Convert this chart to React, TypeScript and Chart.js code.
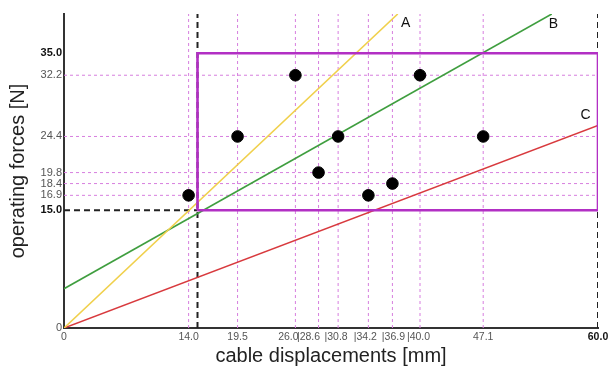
import React, { useEffect, useRef } from "react";
import { Chart, registerables } from "chart.js";

Chart.register(...registerables);

// ---- data ----
const X_MIN = 0;
const X_MAX = 60;
const Y_MIN = 0;
const Y_MAX = 40;

const xTickValues = [0, 14.0, 19.5, 26.0, 28.6, 30.8, 34.2, 36.9, 40.0, 47.1, 60.0];
const xTickLabels = ["0", "14.0", "19.5", "26.0", "|28.6", "|30.8", "|34.2", "|36.9", "|40.0", "47.1", "60.0"];
const xBold = [60.0];

const yTickValues = [0, 15.0, 16.9, 18.4, 19.8, 24.4, 32.2, 35.0];
const yTickLabels = ["0", "15.0", "16.9", "18.4", "19.8", "24.4", "32.2", "35.0"];
const yBold = [15.0, 35.0];

const guideX = [14.0, 19.5, 26.0, 28.6, 30.8, 34.2, 36.9, 40.0, 47.1];
const guideY = [16.9, 18.4, 19.8, 24.4, 32.2];

const pointX = [14.0, 19.5, 26.0, 28.6, 30.8, 34.2, 36.9, 40.0, 47.1];
const pointY = [16.9, 24.4, 32.2, 19.8, 24.4, 16.9, 18.4, 32.2, 24.4];

const lineNames = ["A", "B", "C"];
const lineStartX = [0, 0, 0];
const lineStartY = [0, 5, 0];
const lineEndX = [37.5, 54.8, 60];
const lineEndY = [40, 40, 25.8];
const lineLabelX = [38.4, 55.0, 58.6];
const lineLabelY = [38.8, 38.7, 27.1];

const boxX = [15, 60, 60, 15, 15];
const boxY = [15, 15, 35, 35, 15];

const limitX = [15, 60];
const limitY = [15];

// ---- styles ----
const FONT = "'Liberation Sans', Arial, Helvetica, sans-serif";
const lineColors = ["#f0d04c", "#3f9e3f", "#d83a3e"];
const PINK = "#d77fdf";
const BOX = "#b22fc4";
const xLabelShift = [0, 0, 0, -7, -10, -2, -3, 1, -1.5, 0, 0];

const overlayPlugin = {
  id: "overlay",
  afterDraw(chart: any) {
    const { ctx, chartArea } = chart;
    const xs = chart.scales.x;
    const ys = chart.scales.y;
    ctx.save();
    ctx.fillStyle = "#111";
    ctx.textAlign = "center";
    ctx.textBaseline = "middle";
    ctx.font = `14px ${FONT}`;
    lineNames.forEach((n, i) => {
      ctx.fillText(n, xs.getPixelForValue(lineLabelX[i]), ys.getPixelForValue(lineLabelY[i]));
    });
    xTickValues.forEach((v, i) => {
      const bold = xBold.includes(v);
      ctx.font = `${bold ? "bold " : ""}10.5px ${FONT}`;
      ctx.fillStyle = bold ? "#111" : "#555";
      ctx.fillText(xTickLabels[i], xs.getPixelForValue(v) + xLabelShift[i], chartArea.bottom + 9);
    });
    ctx.restore();
  },
};

export default function App() {
  const canvasRef = useRef<HTMLCanvasElement | null>(null);

  useEffect(() => {
    if (!canvasRef.current) return;

    const seg = (x1: number, y1: number, x2: number, y2: number) => [
      { x: x1, y: y1 },
      { x: x2, y: y2 },
    ];

    const datasets: any[] = [];

    datasets.push({
      data: pointX.map((x, i) => ({ x, y: pointY[i] })),
      backgroundColor: "#000",
      borderColor: "#000",
      pointRadius: 5.8,
      showLine: false,
      order: 0,
    });

    datasets.push({
      data: boxX.map((x, i) => ({ x, y: boxY[i] })),
      borderColor: BOX,
      borderWidth: 2.6,
      pointRadius: 0,
      showLine: true,
      order: 1,
    });

    lineNames.forEach((_, i) => {
      datasets.push({
        data: seg(lineStartX[i], lineStartY[i], lineEndX[i], lineEndY[i]),
        borderColor: lineColors[i],
        borderWidth: 1.6,
        pointRadius: 0,
        showLine: true,
        order: 2,
      });
    });

    limitX.forEach((v) => {
      datasets.push({
        data: seg(v, Y_MIN, v, Y_MAX),
        borderColor: "#222",
        borderWidth: 2,
        borderDash: [6, 4],
        pointRadius: 0,
        showLine: true,
        order: 3,
      });
    });
    limitY.forEach((v) => {
      datasets.push({
        data: seg(X_MIN, v, limitX[0], v),
        borderColor: "#222",
        borderWidth: 2,
        borderDash: [6, 4],
        pointRadius: 0,
        showLine: true,
        order: 3,
      });
    });

    guideX.forEach((v) => {
      datasets.push({
        data: seg(v, Y_MIN, v, Y_MAX),
        borderColor: PINK,
        borderWidth: 1,
        borderDash: [3, 3],
        pointRadius: 0,
        showLine: true,
        order: 4,
      });
    });
    guideY.forEach((v) => {
      datasets.push({
        data: seg(X_MIN, v, X_MAX, v),
        borderColor: PINK,
        borderWidth: 1,
        borderDash: [3, 3],
        pointRadius: 0,
        showLine: true,
        order: 4,
      });
    });

    const chart = new Chart(canvasRef.current, {
      type: "scatter",
      data: { datasets },
      plugins: [overlayPlugin],
      options: {
        animation: false,
        responsive: false,
        events: [],
        layout: { padding: { left: 0, right: 13, top: 14, bottom: 0 } },
        plugins: {
          legend: { display: false },
          tooltip: { enabled: false },
        },
        scales: {
          x: {
            type: "linear",
            min: X_MIN,
            max: X_MAX,
            grid: { display: false, drawTicks: false },
            border: { display: true, color: "#333", width: 2 },
            ticks: { display: false },
            afterFit: (s: any) => {
              s.height = 46;
            },
            title: {
              display: true,
              text: "cable displacements [mm]",
              color: "#222",
              font: { family: FONT, size: 20 },
              padding: { top: 0, bottom: 6 },
            },
          },
          y: {
            type: "linear",
            min: Y_MIN,
            max: Y_MAX,
            grid: { display: false, drawTicks: false },
            border: { display: true, color: "#333", width: 2 },
            afterBuildTicks: (s: any) => {
              s.ticks = yTickValues.map((v) => ({ value: v }));
            },
            afterFit: (s: any) => {
              s.width = 64;
            },
            ticks: {
              autoSkip: false,
              padding: 2,
              callback: (v: any) => {
                const i = yTickValues.indexOf(Number(v));
                return i >= 0 ? yTickLabels[i] : "";
              },
              color: (c: any) => (c.tick && yBold.includes(c.tick.value) ? "#111" : "#555"),
              font: (c: any) => ({
                family: FONT,
                size: 11,
                weight: c.tick && yBold.includes(c.tick.value) ? "bold" : "normal",
              }),
            },
            title: {
              display: true,
              text: "operating forces [N]",
              color: "#222",
              font: { family: FONT, size: 20 },
              padding: { top: 6, bottom: 0 },
            },
          },
        },
      } as any,
    });

    return () => chart.destroy();
  }, []);

  return (
    <div style={{ position: "fixed", left: 0, top: 0, width: 611, height: 374, background: "#fff" }}>
      <canvas ref={canvasRef} width={611} height={374} style={{ display: "block", width: 611, height: 374 }} />
    </div>
  );
}
